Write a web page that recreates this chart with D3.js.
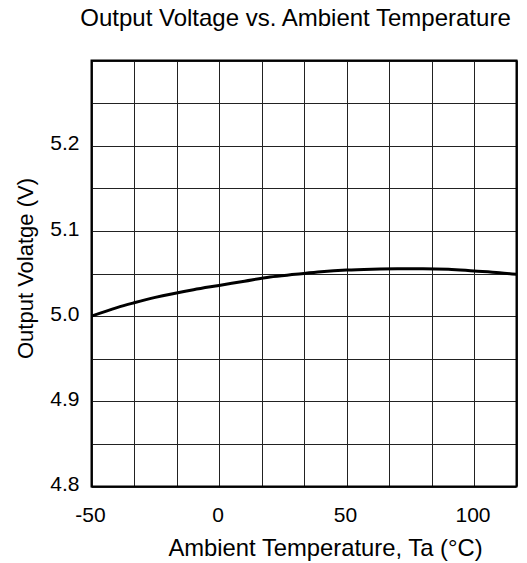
<!DOCTYPE html>
<html><head><meta charset="utf-8">
<script src="https://cdn.jsdelivr.net/npm/d3@7"></script>
<style>body{margin:0;background:#fff;} text{font-family:"Liberation Sans",Arial,sans-serif;fill:#000;}</style>
</head><body>
<svg id="c" width="527" height="563"></svg>
<script>
const temps =    [-50, -40, -33.3, -25, -10, 0, 10, 20, 30, 40, 50, 60, 70, 80, 90, 100, 110, 116.7];
const voltages = [5.000, 5.010, 5.0156, 5.022, 5.031, 5.036, 5.041, 5.046, 5.049, 5.052, 5.054, 5.055, 5.0555, 5.0555, 5.055, 5.053, 5.051, 5.049];
const xTicks = [-50, 0, 50, 100];
const yTicks = [4.8, 4.9, 5.0, 5.1, 5.2];
const xDomain = [-50, 116.667];
const yDomain = [4.8, 5.3];
const title = "Output Voltage vs. Ambient Temperature";
const xTitle = "Ambient Temperature, Ta (°C)";
const yTitle = "Output Volatge (V)";

const svg = d3.select("#c");
const L = 91.5, R = 516.5, T = 60.5, B = 486.5;
const x = d3.scaleLinear().domain(xDomain).range([L, R]);
const y = d3.scaleLinear().domain(yDomain).range([B, T]);

const xGrid = d3.range(0, 11).map(i => xDomain[0] + i * (xDomain[1] - xDomain[0]) / 10);
const yGrid = d3.range(0, 11).map(i => yDomain[0] + i * 0.05);

const g = svg.append("g");
g.selectAll(".vg").data(xGrid).join("line")
  .attr("x1", d => Math.round(x(d)) + 0.5).attr("x2", d => Math.round(x(d)) + 0.5)
  .attr("y1", T).attr("y2", B).attr("stroke", "#222").attr("stroke-width", 1);
g.selectAll(".hg").data(yGrid).join("line")
  .attr("y1", d => Math.round(y(d)) + 0.5).attr("y2", d => Math.round(y(d)) + 0.5)
  .attr("x1", L).attr("x2", R).attr("stroke", "#222").attr("stroke-width", 1);

const line = d3.line().x((d, i) => x(temps[i])).y(d => y(d)).curve(d3.curveMonotoneX);
svg.append("path").datum(voltages).attr("d", line)
  .attr("fill", "none").attr("stroke", "#000").attr("stroke-width", 3);

svg.append("rect").attr("x", L).attr("y", T).attr("width", R - L).attr("height", B - T)
  .attr("fill", "none").attr("stroke", "#000").attr("stroke-width", 2);

svg.selectAll(".xt").data(xTicks).join("text")
  .attr("x", d => x(d) - 1).attr("y", 521.5).attr("text-anchor", "middle")
  .attr("font-size", 21).text(d => d);
svg.selectAll(".yt").data(yTicks).join("text")
  .attr("x", 79.5).attr("y", d => y(d) + 4.6).attr("text-anchor", "end")
  .attr("font-size", 21).text(d => d.toFixed(1));

svg.append("text").attr("x", 295.5).attr("y", 26).attr("text-anchor", "middle")
  .attr("font-size", 24).text(title);
svg.append("text").attr("x", 325.5).attr("y", 556).attr("text-anchor", "middle")
  .attr("font-size", 23.8).text(xTitle);
svg.append("text").attr("transform", "translate(33,268.5) rotate(-90)").attr("text-anchor", "middle")
  .attr("font-size", 22).text(yTitle);
</script>
</body></html>
